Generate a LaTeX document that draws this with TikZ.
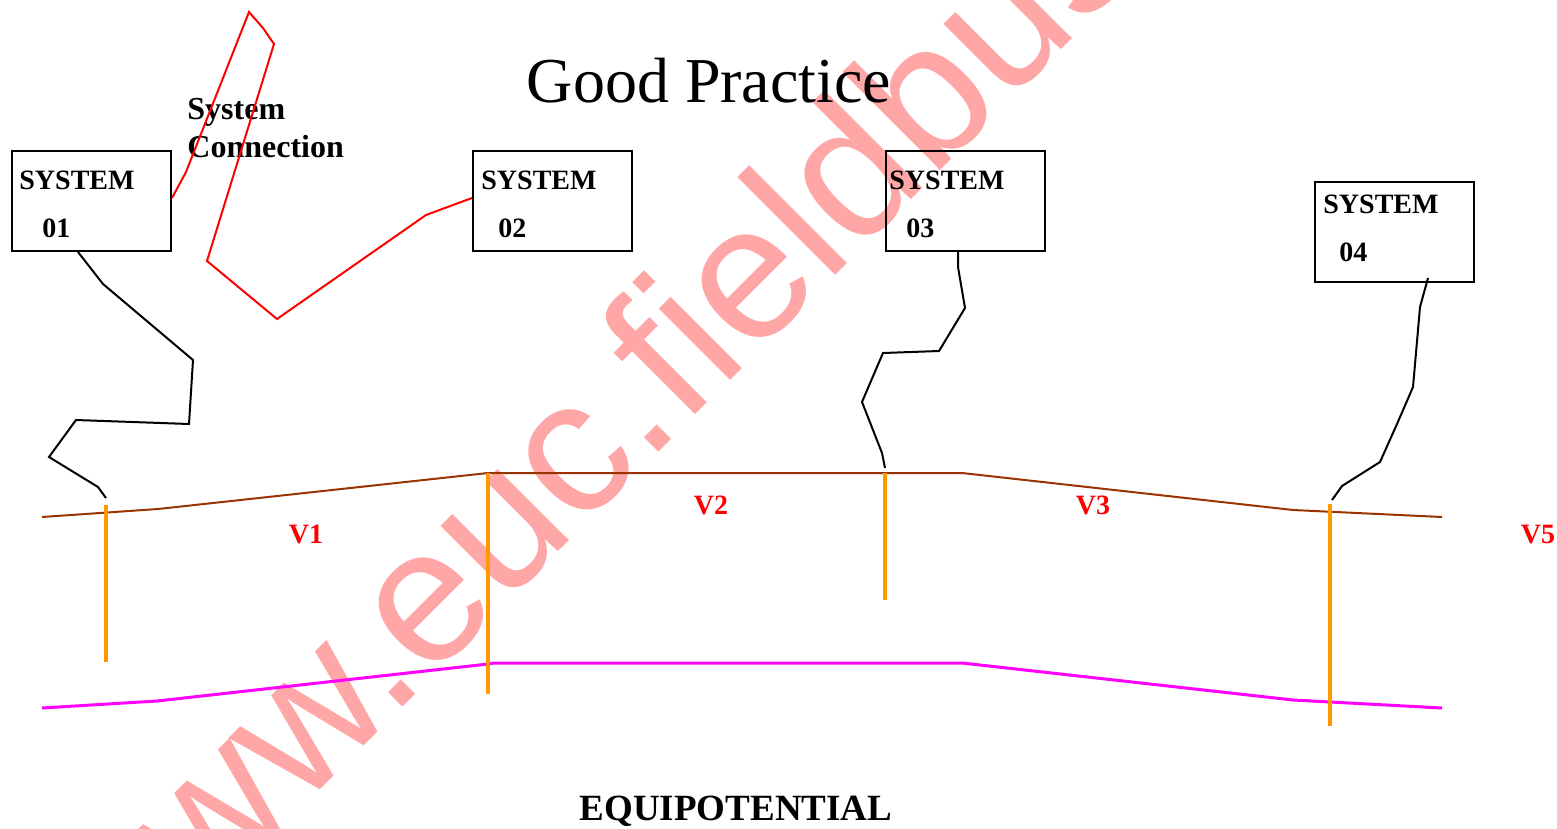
\documentclass[tikz,border=0pt]{standalone}
\usepackage{fontspec}
\setmainfont{Liberation Serif}
\newfontfamily\wmfont{Liberation Sans}
\usetikzlibrary{positioning}

\definecolor{rail}{RGB}{153,51,0}
\definecolor{post}{RGB}{255,153,0}
\definecolor{earth}{RGB}{255,0,255}
\definecolor{wmpink}{RGB}{255,166,166}

\begin{document}
\begin{tikzpicture}[
    x=0.5pt, y=-0.5pt,
    sysbox/.style={
        rectangle, draw=black, line width=1pt, anchor=north west,
        minimum width=79.5pt, minimum height=50pt, inner sep=0pt
    },
    systxt/.style={
        anchor=base west, inner sep=0pt,
        font=\bfseries\fontsize{14}{16}\selectfont
    },
    vtxt/.style={
        anchor=base, inner sep=0pt, text=red,
        font=\bfseries\fontsize{14}{16}\selectfont
    },
    wire/.style={black, line width=1pt},
    link/.style={red, line width=1pt},
    railline/.style={rail, line width=1pt},
    earthline/.style={earth, line width=1.5pt},
    postline/.style={post, line width=2pt}
]
\useasboundingbox (0,0) rectangle (1557,829);

% watermark behind everything
\begin{scope}
\clip (0,0) rectangle (1557,829);
\node[anchor=base west, inner sep=0pt, rotate=45, text=wmpink,
    font=\wmfont\fontsize{95.5}{95.5}\selectfont] (wm) at (105.5,1005) {www.euc.fieldbus};
\end{scope}

% titles
\node[anchor=base, inner sep=0pt, font=\fontsize{32}{36}\selectfont] (title) at (709,103) {Good Practice};
\node[anchor=north west, align=left, inner sep=0pt,
    font=\bfseries\fontsize{16}{19}\selectfont] (conn) at (187,98) {System\\Connection};
\node[anchor=base, inner sep=0pt, font=\bfseries\fontsize{18.5}{21}\selectfont] (equi) at (736,820) {EQUIPOTENTIAL};

% systems
\node[sysbox] (s01) at (11,150) {};
\node[systxt] (s01a) at ([shift={(8,39)}]s01.north west) {SYSTEM};
\node[systxt] (s01b) at ([shift={(31,87)}]s01.north west) {01};

\node[sysbox] (s02) at (472,150) {};
\node[systxt] (s02a) at ([shift={(9,39)}]s02.north west) {SYSTEM};
\node[systxt] (s02b) at ([shift={(26,87)}]s02.north west) {02};

\node[sysbox] (s03) at (885,150) {};
\node[systxt] (s03a) at ([shift={(4,39)}]s03.north west) {SYSTEM};
\node[systxt] (s03b) at ([shift={(21,87)}]s03.north west) {03};

\node[sysbox] (s04) at (1314,181) {};
\node[systxt] (s04a) at ([shift={(9,32)}]s04.north west) {SYSTEM};
\node[systxt] (s04b) at ([shift={(25,80)}]s04.north west) {04};

% potentials
\node[vtxt] (v1) at (306,543) {V1};
\node[vtxt] (v2) at (711,514) {V2};
\node[vtxt] (v3) at (1093,514) {V3};
\node[vtxt] (v5) at (1538,543) {V5};

% rails
\draw[railline] (42,517) -- (158,509) -- (488,473) -- (962,473) -- (1293,510) -- (1442,517);
\draw[earthline] (42,708) -- (157,701) -- (488,664) -- (494,663) -- (962,663) -- (1293,700) -- (1442,708);

\coordinate (e01) at (106,498);
\coordinate (e03) at (885,468);
\coordinate (e04) at (1332,500);

% earth posts
\draw[postline] (106,505) -- (106,662);
\draw[postline] (488,473) -- (488,694);
\draw[postline] (885,473) -- (885,600);
\draw[postline] (1330,504) -- (1330,726);

% system wiring
\draw[wire] (s01.south west) ++(67,0) -- (103,284) -- (193,360) -- (189,424) -- (76,420) -- (49,457) -- (98,487) -- (e01);
\draw[wire] (s03.south west) ++(73,0) -- (958,267) -- (965,308) -- (939,351) -- (883,353) -- (862,402) -- (882,453) -- (e03);
\draw[wire] (s04.south west) ++(114,-5) -- (1420,307) -- (1413,387) -- (1397,424) -- (1380,462) -- (1342,486) -- (e04);

% system connection
\draw[link] ([shift={(0,-3)}]s01.east) -- (186,172) -- (249,12) -- (263,28) -- (274,44) -- (207,261)
    -- (277,319) -- (426,215) -- ([shift={(0,-3)}]s02.west);
\end{tikzpicture}
\end{document}
